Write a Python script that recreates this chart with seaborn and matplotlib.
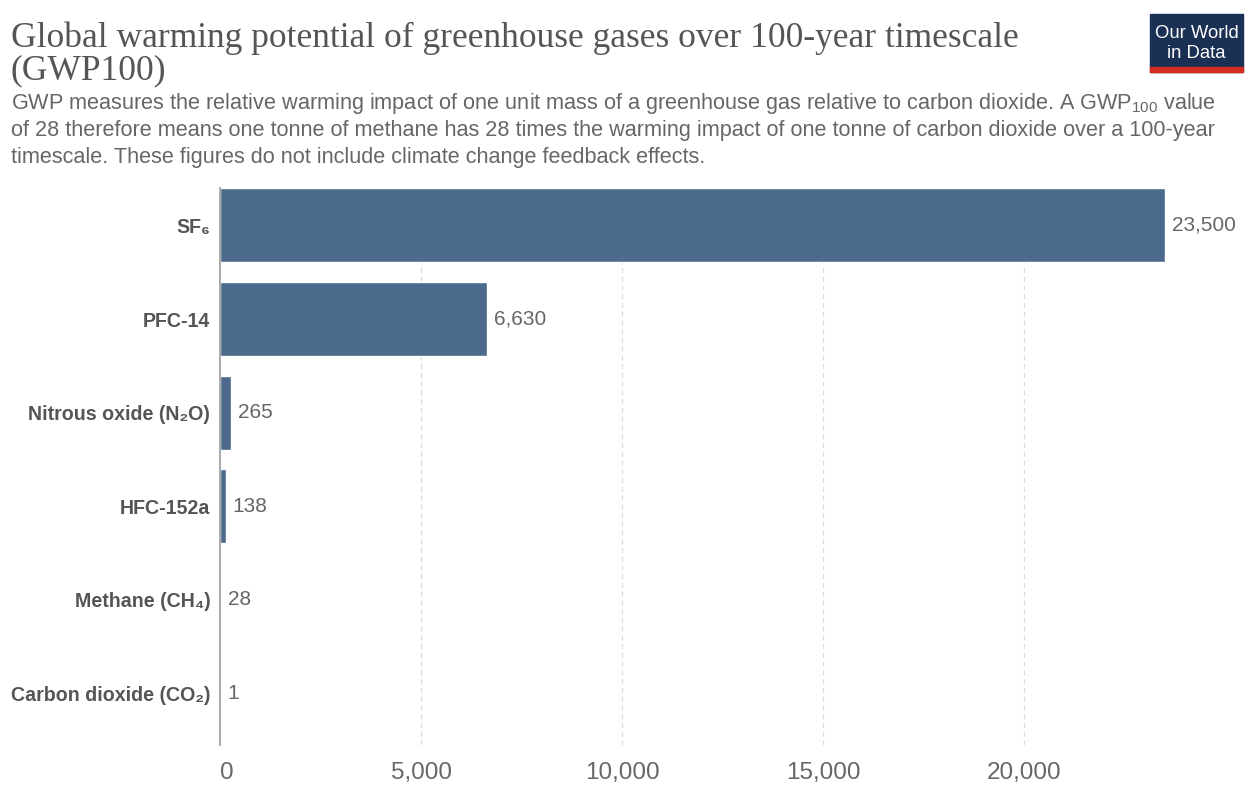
import matplotlib
matplotlib.use("Agg")
import matplotlib.pyplot as plt
import seaborn as sns
import pandas as pd
from matplotlib.patches import Rectangle

# data
gases = ["SF₆", "PFC-14", "Nitrous oxide (N₂O)", "HFC-152a", "Methane (CH₄)", "Carbon dioxide (CO₂)"]
gwp100 = [23500, 6630, 265, 138, 28, 1]
x_ticks = [0, 5000, 10000, 15000, 20000]

df = pd.DataFrame({"gas": gases, "gwp": gwp100})

sns.set_style("white")
plt.rcParams["font.family"] = ["Liberation Sans", "DejaVu Sans"]

W, H = 1257, 794
fig = plt.figure(figsize=(W / 100, H / 100), dpi=100)

# axes placed in pixel terms: x=0 at 220px, 1 unit = 0.0402px
x0 = 220
px_per_unit = 0.0402
xmax = 24000
top, bottom = 188, 745
ax = fig.add_axes([x0 / W, 1 - bottom / H, xmax * px_per_unit / W, (bottom - top) / H])

bar_color = "#4c6a8b"
sns.barplot(data=df, x="gwp", y="gas", color=bar_color, saturation=1, width=0.79, ax=ax)

ax.set_xlim(0, xmax)
ax.set_ylim(5.55, -0.4)
ax.set_xlabel("")
ax.set_ylabel("")

for sp in ["top", "right", "bottom"]:
    ax.spines[sp].set_visible(False)
ax.spines["left"].set_color("#999999")
ax.spines["left"].set_linewidth(1.2)

for v in x_ticks[1:]:
    ax.axvline(v, color="#dddddd", linestyle=(0, (4, 3)), linewidth=0.9, zorder=0)

ax.set_xticks(x_ticks)
ax.set_xticklabels([f"{v:,}" for v in x_ticks])
ax.tick_params(axis="x", length=0, pad=12, labelsize=17.5, labelcolor="#666666")
ax.get_xticklabels()[0].set_horizontalalignment("left")
ax.tick_params(axis="y", length=0, pad=7, labelsize=14.1, labelcolor="#555555")
for lbl in ax.get_yticklabels():
    lbl.set_fontweight("bold")

for i, v in enumerate(gwp100):
    ax.text(v + 180, i, f"{v:,}", va="center", ha="left", fontsize=15,
            color="#666666", clip_on=False)

# title and subtitle
serif = ["Liberation Serif", "DejaVu Serif"]
fig.text(11 / W, 1 - 38 / H, "Global warming potential of greenhouse gases over 100-year timescale",
         family=serif, fontsize=25.5, color="#555555", va="center")
fig.text(11 / W, 1 - 71 / H, "(GWP100)", family=serif, fontsize=25.5, color="#555555", va="center")

sub_lines = [
    r"GWP measures the relative warming impact of one unit mass of a greenhouse gas relative to carbon dioxide. A GWP$_{\mathregular{100}}$ value",
    "of 28 therefore means one tonne of methane has 28 times the warming impact of one tonne of carbon dioxide over a 100-year",
    "timescale. These figures do not include climate change feedback effects.",
]
for k, line in enumerate(sub_lines):
    fig.text(11 / W, 1 - (104 + 26.5 * k) / H, line, fontsize=15.6, color="#666666", va="center")

# logo
lx, ly, lw, lh = 1150, 14, 93, 58
fig.patches.append(Rectangle((lx / W, 1 - (ly + lh) / H), lw / W, lh / H,
                             transform=fig.transFigure, color="#1a3054", zorder=5))
fig.patches.append(Rectangle((lx / W, 1 - (ly + lh) / H), lw / W, 5 / H,
                             transform=fig.transFigure, color="#d42b21", zorder=6))
fig.text((lx + lw / 2) / W, 1 - 33 / H, "Our World", ha="center", va="center",
         fontsize=13.3, color="white", zorder=7)
fig.text((lx + lw / 2) / W, 1 - 53 / H, "in Data", ha="center", va="center",
         fontsize=13.3, color="white", zorder=7)

fig.savefig("out.png", dpi=100)
